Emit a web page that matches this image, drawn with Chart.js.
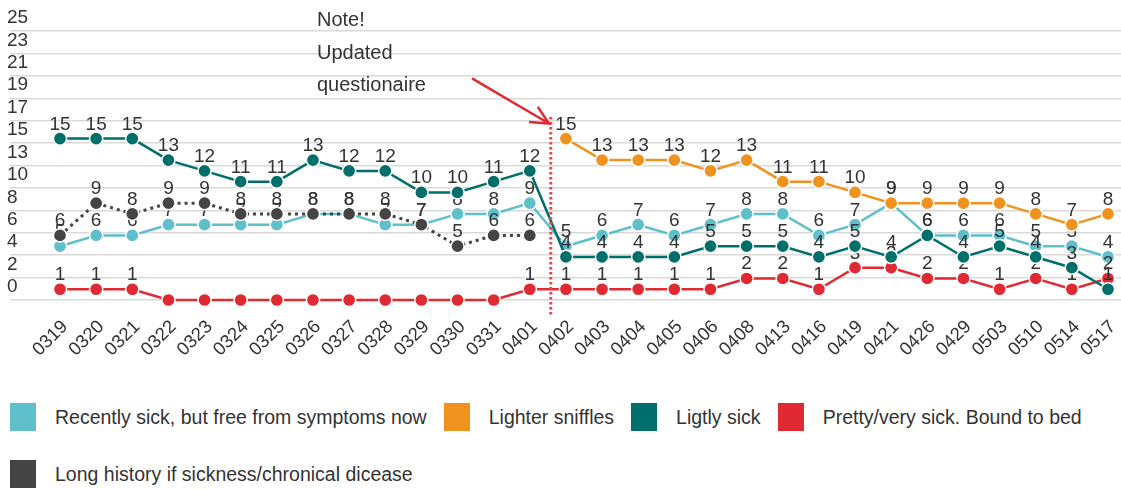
<!DOCTYPE html>
<html>
<head>
<meta charset="utf-8">
<script src="https://cdn.jsdelivr.net/npm/chart.js@4.4.1/dist/chart.umd.min.js"></script>
<style>
  body { margin: 0; background: #fff; font-family: "Liberation Sans", Arial, sans-serif; }
  #wrap { position: relative; width: 1121px; height: 392px; }
  #legend { display: flex; flex-wrap: wrap; width: 1121px; padding-left: 10px; box-sizing: border-box; margin-top: 11px; row-gap: 29px; }
  .item { display: flex; align-items: center; margin-right: 17px; height: 28px; }
  .box { width: 26px; height: 28px; margin-right: 19px; }
  .item span { font-size: 19.5px; color: #333; white-space: nowrap; }
</style>
</head>
<body>
<div id="wrap"><canvas id="chart" width="1121" height="392"></canvas></div>
<div id="legend"></div>
<script>
const dates = ["0319", "0320", "0321", "0322", "0323", "0324", "0325", "0326", "0327", "0328",
    "0329", "0330", "0331", "0401", "0402", "0403", "0404", "0405", "0406", "0408",
    "0413", "0416", "0419", "0421", "0426", "0429", "0503", "0510", "0514", "0517"];

const recentlySick = [5, 6, 6, 7, 7, 7, 7, 8, 8, 7, 7, 8, 8, 9,
    5, 6, 7, 6, 7, 8, 8, 6, 7, 9, 6, 6, 6, 5, 5, 4];
const lighterSniffles = [null, null, null, null, null, null, null, null, null, null, null, null, null, null,
    15, 13, 13, 13, 12, 13, 11, 11, 10, 9, 9, 9, 9, 8, 7, 8];
const ligtlySick = [15, 15, 15, 13, 12, 11, 11, 13, 12, 12, 10, 10, 11, 12,
    4, 4, 4, 4, 5, 5, 5, 4, 5, 4, 6, 4, 5, 4, 3, 1];
const prettySick = [1, 1, 1, 0, 0, 0, 0, 0, 0, 0, 0, 0, 0, 1,
    1, 1, 1, 1, 1, 2, 2, 1, 3, 3, 2, 2, 1, 2, 1, 2];
const longHistory = [6, 9, 8, 9, 9, 8, 8, 8, 8, 8, 7, 5, 6, 6,
    null, null, null, null, null, null, null, null, null, null, null, null, null, null, null, null];

const yTickLabels = ["0", "2", "4", "6", "8", "10", "13", "15", "17", "19", "21", "23", "25"];
const noteLines = ["Note!", "Updated", "questionaire"];

const FONT = '"Liberation Sans", Arial, sans-serif';
Chart.defaults.font.family = FONT;
Chart.defaults.color = "#333";

const series = [
    { label: "Recently sick, but free from symptoms now", data: recentlySick, color: "#5fbfca", order: 5 },
    { label: "Lighter sniffles", data: lighterSniffles, color: "#f0921e", order: 4 },
    { label: "Ligtly sick", data: ligtlySick, color: "#006e6a", order: 2 },
    { label: "Pretty/very sick. Bound to bed", data: prettySick, color: "#e02a33", order: 3 },
    { label: "Long history if sickness/chronical dicease", data: longHistory, color: "#444444", order: 1, dotted: true },
];

// value labels drawn right after each series, so later series cover them (zeros are not labelled)
const valueLabels = {
    id: "valueLabels",
    afterDatasetDraw(chart, args) {
        const ctx = chart.ctx;
        const values = series[args.index].data;
        ctx.save();
        ctx.font = "19px " + FONT;
        ctx.fillStyle = "#333";
        ctx.textAlign = "center";
        ctx.textBaseline = "alphabetic";
        args.meta.data.forEach((pt, i) => {
            if (!values[i] || pt.skip) return;
            ctx.fillText(String(values[i]), pt.x, pt.y - 9);
        });
        ctx.restore();
    },
};

const noteMarks = {
    id: "noteMarks",
    afterDatasetsDraw(chart) {
        const { ctx, scales: { x, y } } = chart;
        ctx.save();

        // dotted divider between 0401 and 0402
        const vx = x.getPixelForValue(13.58);
        ctx.strokeStyle = "#ec4650";
        ctx.lineWidth = 3;
        ctx.setLineDash([2.5, 2.5]);
        ctx.beginPath();
        ctx.moveTo(vx, y.getPixelForValue(17));
        ctx.lineTo(vx, y.bottom + 16);
        ctx.stroke();

        // arrow pointing at the divider
        ctx.setLineDash([]);
        ctx.strokeStyle = "#e02a33";
        ctx.lineWidth = 2.5;
        const x0 = x.getPixelForValue(11.4), y0 = y.getPixelForValue(20.6);
        const x1 = x.getPixelForValue(13.53), y1 = y.getPixelForValue(16.4);
        const ang = Math.atan2(y1 - y0, x1 - x0);
        ctx.beginPath();
        ctx.moveTo(x0, y0);
        ctx.lineTo(x1, y1);
        ctx.moveTo(x1 - 20 * Math.cos(ang - 0.45), y1 - 20 * Math.sin(ang - 0.45));
        ctx.lineTo(x1, y1);
        ctx.lineTo(x1 - 20 * Math.cos(ang + 0.45), y1 - 20 * Math.sin(ang + 0.45));
        ctx.stroke();

        // note text
        const noteY = [26.0, 22.95, 19.9];
        ctx.fillStyle = "#333";
        ctx.font = "20px " + FONT;
        ctx.textAlign = "left";
        ctx.textBaseline = "middle";
        noteLines.forEach((t, i) => {
            ctx.fillText(t, x.getPixelForValue(7.11), y.getPixelForValue(noteY[i]));
        });
        ctx.restore();
    },
};

new Chart(document.getElementById("chart"), {
    type: "line",
    data: {
        datasets: series.map((s) => ({
            label: s.label,
            data: s.data.map((v, i) => ({ x: i, y: v })),
            order: s.order,
            borderColor: s.color,
            backgroundColor: s.color,
            borderWidth: s.dotted ? 3 : 2.5,
            borderDash: s.dotted ? [3, 4] : [],
            pointRadius: 6.6,
            pointBackgroundColor: s.color,
            pointBorderColor: "#fff",
            pointBorderWidth: 1.5,
            tension: 0,
            spanGaps: false,
            clip: false,
        })),
    },
    options: {
        responsive: false,
        animation: false,
        layout: { autoPadding: false, padding: { left: 10, top: 31, right: 0, bottom: 0 } },
        plugins: {
            legend: { display: false },
            tooltip: { enabled: false },
        },
        scales: {
            x: {
                type: "linear",
                min: -1.384,
                max: 29.36,
                grid: { display: false },
                border: { display: false },
                afterBuildTicks: (scale) => {
                    scale.ticks = dates.map((d, i) => ({ value: i }));
                },
                afterFit: (scale) => {
                    scale.height = 92;
                    scale.paddingLeft = 0;
                    scale.paddingRight = 0;
                },
                ticks: {
                    autoSkip: false,
                    minRotation: 45,
                    maxRotation: 45,
                    padding: 8,
                    labelOffset: 5,
                    color: "#333",
                    font: { size: 18.5 },
                    callback: (value, index) => dates[index],
                },
            },
            y: {
                min: 0,
                max: 25,
                afterBuildTicks: (scale) => {
                    scale.ticks = yTickLabels.map((t, i) => ({ value: (i * 25) / (yTickLabels.length - 1) }));
                },
                grid: { color: "#d9d9d9", lineWidth: 1.5, drawTicks: false },
                border: { display: false },
                ticks: {
                    autoSkip: false,
                    mirror: true,
                    padding: -1,
                    labelOffset: -13,
                    color: "#333",
                    font: { size: 19 },
                    callback: (value, index) => yTickLabels[index],
                },
            },
        },
    },
    plugins: [valueLabels, noteMarks],
});

const legend = document.getElementById("legend");
series.forEach((s) => {
    const item = document.createElement("div");
    item.className = "item";
    item.innerHTML = '<div class="box" style="background:' + s.color + '"></div><span>' + s.label + "</span>";
    legend.appendChild(item);
});
</script>
</body>
</html>
